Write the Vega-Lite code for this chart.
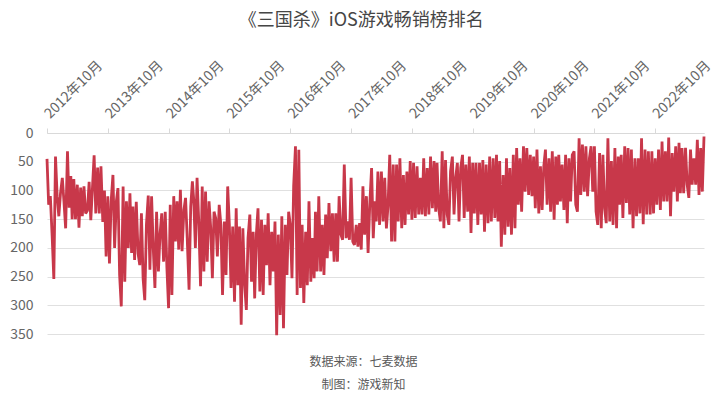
{
"$schema":"https://vega.github.io/schema/vega-lite/v6.json",
"width":657,"height":201,
"autosize":{"type":"none"},
"padding":{"left":47,"top":133,"right":14,"bottom":64},
"background":"white",
"config":{"font":"Noto Sans CJK SC","view":{"stroke":null}},
"title":{"text":"《三国杀》iOS游戏畅销榜排名","fontSize":18,"fontWeight":"normal","color":"#464646","anchor":"middle","frame":"bounds","offset":28},
"data":{"values":[
{"d":"2012-10-01","r":45},{"d":"2012-10-11","r":125},{"d":"2012-10-21","r":110},
{"d":"2012-11-01","r":180},{"d":"2012-11-11","r":254},{"d":"2012-11-21","r":41},
{"d":"2012-12-01","r":110},{"d":"2012-12-11","r":145},{"d":"2012-12-21","r":105},
{"d":"2013-01-01","r":78},{"d":"2013-01-11","r":120},{"d":"2013-01-21","r":166},
{"d":"2013-02-01","r":32},{"d":"2013-02-11","r":130},{"d":"2013-02-21","r":75},
{"d":"2013-03-01","r":150},{"d":"2013-03-11","r":80},{"d":"2013-03-21","r":150},
{"d":"2013-04-01","r":90},{"d":"2013-04-11","r":165},{"d":"2013-04-21","r":95},
{"d":"2013-05-01","r":145},{"d":"2013-05-11","r":93},{"d":"2013-05-21","r":140},
{"d":"2013-06-01","r":135},{"d":"2013-06-11","r":85},{"d":"2013-06-21","r":152},
{"d":"2013-07-01","r":95},{"d":"2013-07-11","r":39},{"d":"2013-07-21","r":140},
{"d":"2013-08-01","r":60},{"d":"2013-08-11","r":140},{"d":"2013-08-21","r":58},
{"d":"2013-09-01","r":155},{"d":"2013-09-11","r":100},{"d":"2013-09-21","r":215},
{"d":"2013-10-01","r":110},{"d":"2013-10-11","r":227},{"d":"2013-10-21","r":120},
{"d":"2013-11-01","r":73},{"d":"2013-11-11","r":200},{"d":"2013-11-21","r":120},
{"d":"2013-12-01","r":96},{"d":"2013-12-11","r":247},{"d":"2013-12-21","r":302},
{"d":"2014-01-01","r":93},{"d":"2014-01-11","r":259},{"d":"2014-01-21","r":119},
{"d":"2014-02-01","r":200},{"d":"2014-02-11","r":105},{"d":"2014-02-21","r":209},
{"d":"2014-03-01","r":128},{"d":"2014-03-11","r":221},{"d":"2014-03-21","r":120},
{"d":"2014-04-01","r":210},{"d":"2014-04-11","r":230},{"d":"2014-04-21","r":140},
{"d":"2014-05-01","r":253},{"d":"2014-05-11","r":291},{"d":"2014-05-21","r":160},
{"d":"2014-06-01","r":109},{"d":"2014-06-11","r":238},{"d":"2014-06-21","r":110},
{"d":"2014-07-01","r":200},{"d":"2014-07-11","r":270},{"d":"2014-07-21","r":137},
{"d":"2014-08-01","r":241},{"d":"2014-08-11","r":175},{"d":"2014-08-21","r":140},
{"d":"2014-09-01","r":224},{"d":"2014-09-11","r":137},{"d":"2014-09-21","r":235},
{"d":"2014-10-01","r":305},{"d":"2014-10-11","r":125},{"d":"2014-10-21","r":282},
{"d":"2014-11-01","r":110},{"d":"2014-11-11","r":189},{"d":"2014-11-21","r":119},
{"d":"2014-12-01","r":203},{"d":"2014-12-11","r":99},{"d":"2014-12-21","r":206},
{"d":"2015-01-01","r":134},{"d":"2015-01-11","r":113},{"d":"2015-01-21","r":183},
{"d":"2015-02-01","r":273},{"d":"2015-02-11","r":128},{"d":"2015-02-21","r":84},
{"d":"2015-03-01","r":116},{"d":"2015-03-11","r":200},{"d":"2015-03-21","r":78},
{"d":"2015-04-01","r":160},{"d":"2015-04-11","r":267},{"d":"2015-04-21","r":93},
{"d":"2015-05-01","r":241},{"d":"2015-05-11","r":102},{"d":"2015-05-21","r":224},
{"d":"2015-06-01","r":119},{"d":"2015-06-11","r":165},{"d":"2015-06-21","r":253},
{"d":"2015-07-01","r":137},{"d":"2015-07-11","r":148},{"d":"2015-07-21","r":215},
{"d":"2015-08-01","r":125},{"d":"2015-08-11","r":160},{"d":"2015-08-21","r":282},
{"d":"2015-09-01","r":154},{"d":"2015-09-11","r":247},{"d":"2015-09-21","r":93},
{"d":"2015-10-01","r":160},{"d":"2015-10-11","r":270},{"d":"2015-10-21","r":163},
{"d":"2015-11-01","r":294},{"d":"2015-11-11","r":131},{"d":"2015-11-21","r":265},
{"d":"2015-12-01","r":163},{"d":"2015-12-11","r":334},{"d":"2015-12-21","r":166},
{"d":"2016-01-01","r":265},{"d":"2016-01-11","r":308},{"d":"2016-01-21","r":183},
{"d":"2016-02-01","r":142},{"d":"2016-02-11","r":259},{"d":"2016-02-21","r":172},
{"d":"2016-03-01","r":288},{"d":"2016-03-11","r":177},{"d":"2016-03-21","r":131},
{"d":"2016-04-01","r":276},{"d":"2016-04-11","r":151},{"d":"2016-04-21","r":282},
{"d":"2016-05-01","r":160},{"d":"2016-05-11","r":230},{"d":"2016-05-21","r":140},
{"d":"2016-06-01","r":265},{"d":"2016-06-11","r":172},{"d":"2016-06-21","r":241},
{"d":"2016-07-01","r":154},{"d":"2016-07-11","r":352},{"d":"2016-07-21","r":177},
{"d":"2016-08-01","r":317},{"d":"2016-08-11","r":145},{"d":"2016-08-21","r":340},
{"d":"2016-09-01","r":160},{"d":"2016-09-11","r":247},{"d":"2016-09-21","r":137},
{"d":"2016-10-01","r":160},{"d":"2016-10-11","r":253},{"d":"2016-10-21","r":93},
{"d":"2016-11-01","r":23},{"d":"2016-11-11","r":282},{"d":"2016-11-21","r":29},
{"d":"2016-12-01","r":270},{"d":"2016-12-11","r":160},{"d":"2016-12-21","r":296},
{"d":"2017-01-01","r":172},{"d":"2017-01-11","r":265},{"d":"2017-01-21","r":119},
{"d":"2017-02-01","r":259},{"d":"2017-02-11","r":183},{"d":"2017-02-21","r":253},
{"d":"2017-03-01","r":137},{"d":"2017-03-11","r":241},{"d":"2017-03-21","r":110},
{"d":"2017-04-01","r":241},{"d":"2017-04-11","r":160},{"d":"2017-04-21","r":247},
{"d":"2017-05-01","r":142},{"d":"2017-05-11","r":218},{"d":"2017-05-21","r":122},
{"d":"2017-06-01","r":206},{"d":"2017-06-11","r":140},{"d":"2017-06-21","r":224},
{"d":"2017-07-01","r":140},{"d":"2017-07-11","r":224},{"d":"2017-07-21","r":110},
{"d":"2017-08-01","r":177},{"d":"2017-08-11","r":186},{"d":"2017-08-21","r":55},
{"d":"2017-09-01","r":183},{"d":"2017-09-11","r":154},{"d":"2017-09-21","r":186},
{"d":"2017-10-01","r":78},{"d":"2017-10-11","r":189},{"d":"2017-10-21","r":195},
{"d":"2017-11-01","r":160},{"d":"2017-11-11","r":198},{"d":"2017-11-21","r":157},
{"d":"2017-12-01","r":203},{"d":"2017-12-11","r":93},{"d":"2017-12-21","r":177},
{"d":"2018-01-01","r":110},{"d":"2018-01-11","r":209},{"d":"2018-01-21","r":125},
{"d":"2018-02-01","r":61},{"d":"2018-02-11","r":183},{"d":"2018-02-21","r":119},
{"d":"2018-03-01","r":154},{"d":"2018-03-11","r":67},{"d":"2018-03-21","r":160},
{"d":"2018-04-01","r":67},{"d":"2018-04-11","r":154},{"d":"2018-04-21","r":78},
{"d":"2018-05-01","r":166},{"d":"2018-05-11","r":125},{"d":"2018-05-21","r":38},
{"d":"2018-06-01","r":189},{"d":"2018-06-11","r":55},{"d":"2018-06-21","r":189},
{"d":"2018-07-01","r":55},{"d":"2018-07-11","r":154},{"d":"2018-07-21","r":44},
{"d":"2018-08-01","r":166},{"d":"2018-08-11","r":73},{"d":"2018-08-21","r":160},
{"d":"2018-09-01","r":67},{"d":"2018-09-11","r":142},{"d":"2018-09-21","r":49},
{"d":"2018-10-01","r":151},{"d":"2018-10-11","r":52},{"d":"2018-10-21","r":148},
{"d":"2018-11-01","r":58},{"d":"2018-11-11","r":142},{"d":"2018-11-21","r":78},
{"d":"2018-12-01","r":142},{"d":"2018-12-11","r":44},{"d":"2018-12-21","r":145},
{"d":"2019-01-01","r":61},{"d":"2019-01-11","r":142},{"d":"2019-01-21","r":41},
{"d":"2019-02-01","r":131},{"d":"2019-02-11","r":49},{"d":"2019-02-21","r":137},
{"d":"2019-03-01","r":52},{"d":"2019-03-11","r":131},{"d":"2019-03-21","r":154},
{"d":"2019-04-01","r":32},{"d":"2019-04-11","r":166},{"d":"2019-04-21","r":47},
{"d":"2019-05-01","r":142},{"d":"2019-05-11","r":160},{"d":"2019-05-21","r":67},
{"d":"2019-06-01","r":41},{"d":"2019-06-11","r":142},{"d":"2019-06-21","r":78},
{"d":"2019-07-01","r":52},{"d":"2019-07-11","r":154},{"d":"2019-07-21","r":61},
{"d":"2019-08-01","r":38},{"d":"2019-08-11","r":148},{"d":"2019-08-21","r":55},
{"d":"2019-09-01","r":137},{"d":"2019-09-11","r":41},{"d":"2019-09-21","r":174},
{"d":"2019-10-01","r":52},{"d":"2019-10-11","r":140},{"d":"2019-10-21","r":52},
{"d":"2019-11-01","r":160},{"d":"2019-11-11","r":52},{"d":"2019-11-21","r":142},
{"d":"2019-12-01","r":47},{"d":"2019-12-11","r":172},{"d":"2019-12-21","r":55},
{"d":"2020-01-01","r":157},{"d":"2020-01-11","r":41},{"d":"2020-01-21","r":154},
{"d":"2020-02-01","r":44},{"d":"2020-02-11","r":148},{"d":"2020-02-21","r":38},
{"d":"2020-03-01","r":154},{"d":"2020-03-11","r":49},{"d":"2020-03-21","r":198},
{"d":"2020-04-01","r":73},{"d":"2020-04-11","r":177},{"d":"2020-04-21","r":44},
{"d":"2020-05-01","r":163},{"d":"2020-05-11","r":61},{"d":"2020-05-21","r":177},
{"d":"2020-06-01","r":38},{"d":"2020-06-11","r":166},{"d":"2020-06-21","r":26},
{"d":"2020-07-01","r":125},{"d":"2020-07-11","r":44},{"d":"2020-07-21","r":137},
{"d":"2020-08-01","r":23},{"d":"2020-08-11","r":102},{"d":"2020-08-21","r":26},
{"d":"2020-09-01","r":108},{"d":"2020-09-11","r":38},{"d":"2020-09-21","r":110},
{"d":"2020-10-01","r":41},{"d":"2020-10-11","r":131},{"d":"2020-10-21","r":29},
{"d":"2020-11-01","r":140},{"d":"2020-11-11","r":58},{"d":"2020-11-21","r":134},
{"d":"2020-12-01","r":58},{"d":"2020-12-11","r":29},{"d":"2020-12-21","r":125},
{"d":"2021-01-01","r":44},{"d":"2021-01-11","r":137},{"d":"2021-01-21","r":32},
{"d":"2021-02-01","r":151},{"d":"2021-02-11","r":41},{"d":"2021-02-21","r":125},
{"d":"2021-03-01","r":38},{"d":"2021-03-11","r":119},{"d":"2021-03-21","r":55},
{"d":"2021-04-01","r":134},{"d":"2021-04-11","r":38},{"d":"2021-04-21","r":157},
{"d":"2021-05-01","r":44},{"d":"2021-05-11","r":119},{"d":"2021-05-21","r":38},
{"d":"2021-06-01","r":32},{"d":"2021-06-11","r":125},{"d":"2021-06-21","r":137},
{"d":"2021-07-01","r":9},{"d":"2021-07-11","r":108},{"d":"2021-07-21","r":20},
{"d":"2021-08-01","r":102},{"d":"2021-08-11","r":23},{"d":"2021-08-21","r":110},
{"d":"2021-09-01","r":44},{"d":"2021-09-11","r":23},{"d":"2021-09-21","r":102},
{"d":"2021-10-01","r":23},{"d":"2021-10-11","r":137},{"d":"2021-10-21","r":160},
{"d":"2021-11-01","r":35},{"d":"2021-11-11","r":166},{"d":"2021-11-21","r":38},
{"d":"2021-12-01","r":131},{"d":"2021-12-11","r":157},{"d":"2021-12-21","r":9},
{"d":"2022-01-01","r":154},{"d":"2022-01-11","r":49},{"d":"2022-01-21","r":160},
{"d":"2022-02-01","r":26},{"d":"2022-02-11","r":166},{"d":"2022-02-21","r":41},
{"d":"2022-03-01","r":125},{"d":"2022-03-11","r":38},{"d":"2022-03-21","r":148},
{"d":"2022-04-01","r":23},{"d":"2022-04-11","r":122},{"d":"2022-04-21","r":26},
{"d":"2022-05-01","r":142},{"d":"2022-05-11","r":29},{"d":"2022-05-21","r":166},
{"d":"2022-06-01","r":44},{"d":"2022-06-11","r":145},{"d":"2022-06-21","r":44},
{"d":"2022-07-01","r":140},{"d":"2022-07-11","r":9},{"d":"2022-07-21","r":159},
{"d":"2022-08-01","r":29},{"d":"2022-08-11","r":142},{"d":"2022-08-21","r":32},
{"d":"2022-09-01","r":142},{"d":"2022-09-11","r":32},{"d":"2022-09-21","r":140},
{"d":"2022-10-01","r":44},{"d":"2022-10-11","r":125},{"d":"2022-10-21","r":29},
{"d":"2022-11-01","r":134},{"d":"2022-11-11","r":15},{"d":"2022-11-21","r":119},
{"d":"2022-12-01","r":32},{"d":"2022-12-11","r":119},{"d":"2022-12-21","r":8},
{"d":"2023-01-01","r":145},{"d":"2023-01-11","r":35},{"d":"2023-01-21","r":102},
{"d":"2023-02-01","r":23},{"d":"2023-02-11","r":119},{"d":"2023-02-21","r":17},
{"d":"2023-03-01","r":105},{"d":"2023-03-11","r":26},{"d":"2023-03-21","r":105},
{"d":"2023-04-01","r":26},{"d":"2023-04-11","r":90},{"d":"2023-04-21","r":113},
{"d":"2023-05-01","r":29},{"d":"2023-05-11","r":90},{"d":"2023-05-21","r":44},
{"d":"2023-06-01","r":90},{"d":"2023-06-11","r":12},{"d":"2023-06-21","r":108},
{"d":"2023-07-01","r":26},{"d":"2023-07-11","r":102},{"d":"2023-07-21","r":6}
]},
"encoding":{
  "y":{"field":"r","type":"quantitative","scale":{"domain":[0,350],"reverse":true,"nice":false},
   "axis":{"title":null,"values":[0,50,100,150,200,250,300,350],"grid":true,"gridColor":"#e0e0e0","domain":false,"ticks":false,
    "labelFontSize":14,"labelColor":"#666666","labelPadding":14,"labelOverlap":false,"labelBound":false,"labelFlush":false}}
},
"layer":[
{"mark":{"type":"line","color":"#c8384a","strokeWidth":2.8,"strokeJoin":"bevel"},
 "encoding":{
  "x":{"field":"d","type":"temporal","scale":{"type":"utc","nice":false},
   "axis":{"orient":"top","title":null,"grid":false,
    "values":[{"year":2012,"month":10,"date":1,"utc":true},{"year":2013,"month":10,"date":1,"utc":true},{"year":2014,"month":10,"date":1,"utc":true},{"year":2015,"month":10,"date":1,"utc":true},{"year":2016,"month":10,"date":1,"utc":true},{"year":2017,"month":10,"date":1,"utc":true},{"year":2018,"month":10,"date":1,"utc":true},{"year":2019,"month":10,"date":1,"utc":true},{"year":2020,"month":10,"date":1,"utc":true},{"year":2021,"month":10,"date":1,"utc":true},{"year":2022,"month":10,"date":1,"utc":true}],
    "format":"%Y年%-m月","labelAngle":-45,"labelAlign":"left","labelBaseline":"middle",
    "labelFontSize":14,"labelColor":"#666666","labelPadding":12,"labelOverlap":false,"labelBound":false,"labelFlush":false,
    "tickSize":5,"tickColor":"#d9d9d9","domainColor":"#d9d9d9"}}
 }},
{"mark":{"type":"line","opacity":0},
 "encoding":{
  "x":{"field":"d","type":"temporal",
   "axis":{"orient":"bottom","labels":false,"ticks":false,"domain":false,"grid":false,
    "title":["数据来源：七麦数据","制图：游戏新知"],"titleFontSize":12,"titleFontWeight":"normal","titleColor":"#595959",
    "titlePadding":22,"titleLineHeight":23,"titleX":316}}
 }}
],
"resolve":{"axis":{"x":"independent"}}
}
